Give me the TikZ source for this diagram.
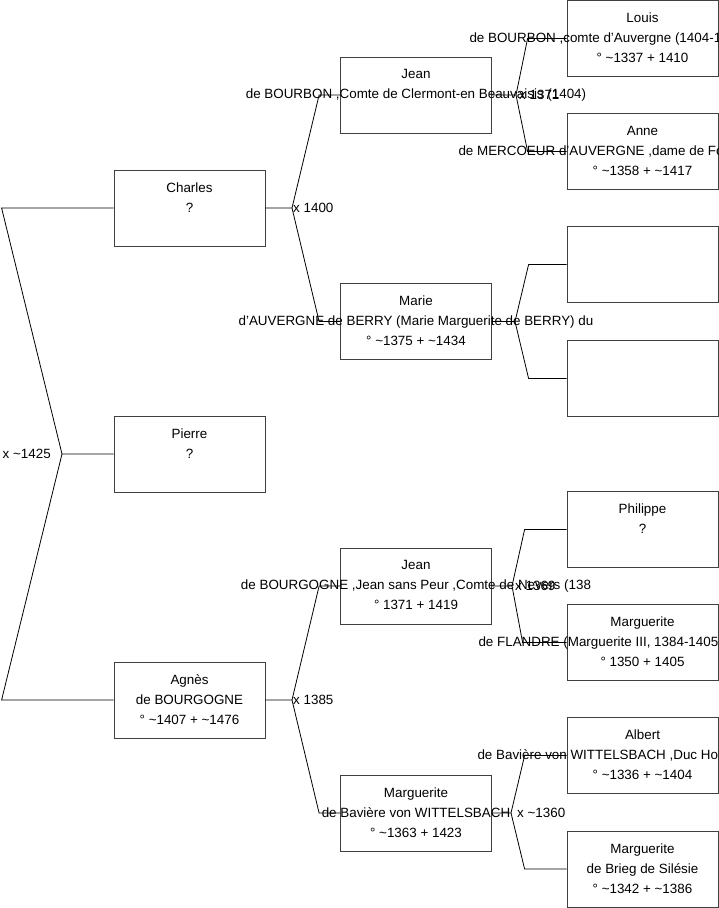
\documentclass[tikz,border=0pt]{standalone}
\usepackage{fontspec}
\setmainfont{Liberation Sans}
\usetikzlibrary{positioning}
\newcommand{\tld}{\textasciitilde}
\newcommand{\cutline}[2]{\makebox[#1pt][l]{#2}}
\tikzset{
  fam/person/.style={draw=black!75, line width=0.8pt, minimum width=151pt, minimum height=76pt, inner sep=0pt},
  fam/name/.style={anchor=north, inner sep=0pt, yshift=-12.5pt, align=center, font=\fontsize{13.4}{20.2}\selectfont},
  fam/link/.style={line width=0.8pt},
  fam/union/.style={inner sep=1pt, font=\fontsize{13.4}{15}\selectfont}
}

\begin{document}
\begin{tikzpicture}[x=1pt, y=-1pt]
  \useasboundingbox (0,0) rectangle (719,908);
  \clip (0,0) rectangle (719,908);
  % first column
  \node[fam/person] (charles) at (189.5,208) {};
  \node[fam/person] (pierre) at (189.5,454) {};
  \node[fam/person] (agnes) at (189.5,700) {};
  % second column
  \node[fam/person] (jean) at (416,95) {};
  \node[fam/person] (marie) at (416,321.5) {};
  \node[fam/person] (jeanb) at (416,586) {};
  \node[fam/person] (margb) at (416,813) {};
  % third column
  \node[fam/person] (louis) at (642.5,38.5) {};
  \node[fam/person] (anne) at (642.5,151.5) {};
  \node[fam/person] (unk1) at (642.5,264.5) {};
  \node[fam/person] (unk2) at (642.5,378.5) {};
  \node[fam/person] (philippe) at (642.5,529.5) {};
  \node[fam/person] (margf) at (642.5,642.5) {};
  \node[fam/person] (albert) at (642.5,755.5) {};
  \node[fam/person] (brieg) at (642.5,869) {};

  % texts
  \node[fam/name] (charles-t) at (charles.north) {Charles\\?};
  \node[fam/name] (pierre-t) at (pierre.north) {Pierre\\?};
  \node[fam/name] (agnes-t) at (agnes.north) {Agnès\\de BOURGOGNE\\° \tld1407 + \tld1476};
  \node[fam/name] (jean-t) at (jean.north) {Jean\\de BOURBON ,Comte de Clermont-en Beauvaisis (1404)};
  \node[fam/name] (marie-t) at (marie.north) {Marie\\d'AUVERGNE de BERRY (Marie Marguerite de BERRY) du\\° \tld1375 + \tld1434};
  \node[fam/name] (jeanb-t) at (jeanb.north) {Jean\\de BOURGOGNE ,Jean sans Peur ,Comte de Nevers (138\\° 1371 + 1419};
  \node[fam/name] (margb-t) at (margb.north) {Marguerite\\de Bavière von WITTELSBACH\\° \tld1363 + 1423};
  \node[fam/name] (louis-t) at (louis.north) {Louis\\\cutline{346}{de BOURBON ,comte d'Auvergne (1404-1}\\° \tld1337 + 1410};
  \node[fam/name] (anne-t) at (anne.north) {Anne\\\cutline{368}{de MERCOEUR d'AUVERGNE ,dame de Fo}\\° \tld1358 + \tld1417};
  \node[fam/name] (philippe-t) at (philippe.north) {Philippe\\?};
  \node[fam/name] (margf-t) at (margf.north) {Marguerite\\\cutline{328}{de FLANDRE (Marguerite III, 1384-1405}\\° 1350 + 1405};
  \node[fam/name] (albert-t) at (albert.north) {Albert\\\cutline{330}{de Bavière von WITTELSBACH ,Duc Hol}\\° \tld1336 + \tld1404};
  \node[fam/name] (brieg-t) at (brieg.north) {Marguerite\\de Brieg de Silésie\\° \tld1342 + \tld1386};

  % unions
  \coordinate (m1425) at (62,454);
  \coordinate (m1400) at (292,208);
  \coordinate (m1385) at (292,700);
  \coordinate (m1371) at (516,95);
  \coordinate (mmarie) at (515,321.5);
  \coordinate (m1369) at (512,586);
  \coordinate (m1360) at (511,813);

  \draw[fam/link] (pierre.west) -- (m1425) -- ([xshift=-112pt]charles.west) -- (charles.west);
  \draw[fam/link] (m1425) -- ([xshift=-112pt]agnes.west) -- (agnes.west);
  \draw[fam/link] (charles.east) -- (m1400) -- ([xshift=-21pt]jean.west) -- (jean.west);
  \draw[fam/link] (m1400) -- ([xshift=-21pt]marie.west) -- (marie.west);
  \draw[fam/link] (agnes.east) -- (m1385) -- ([xshift=-21pt]jeanb.west) -- (jeanb.west);
  \draw[fam/link] (m1385) -- ([xshift=-21pt]margb.west) -- (margb.west);
  \draw[fam/link] (jean.east) -- (m1371) -- ([xshift=-39pt]louis.west) -- (louis.west);
  \draw[fam/link] (m1371) -- ([xshift=-39pt]anne.west) -- (anne.west);
  \draw[fam/link] (marie.east) -- (mmarie) -- ([xshift=-38pt]unk1.west) -- (unk1.west);
  \draw[fam/link] (mmarie) -- ([xshift=-38pt]unk2.west) -- (unk2.west);
  \draw[fam/link] (jeanb.east) -- (m1369) -- ([xshift=-42pt]philippe.west) -- (philippe.west);
  \draw[fam/link] (m1369) -- ([xshift=-44pt]margf.west) -- (margf.west);
  \draw[fam/link] (margb.east) -- (m1360) -- ([xshift=-42pt]albert.west) -- (albert.west);
  \draw[fam/link] (m1360) -- ([xshift=-42pt]brieg.west) -- (brieg.west);

  \node[fam/union, left=10pt of m1425] (u1425) {x \tld1425};
  \node[fam/union, right=0pt of m1400] (u1400) {x 1400};
  \node[fam/union, right=0pt of m1385] (u1385) {x 1385};
  \node[fam/union, right=2pt of m1371] (u1371) {x 1371};
  \node[fam/union, right=2pt of m1369] (u1369) {x 1369};
  \node[fam/union, right=5pt of m1360] (u1360) {x \tld1360};
\end{tikzpicture}
\end{document}
